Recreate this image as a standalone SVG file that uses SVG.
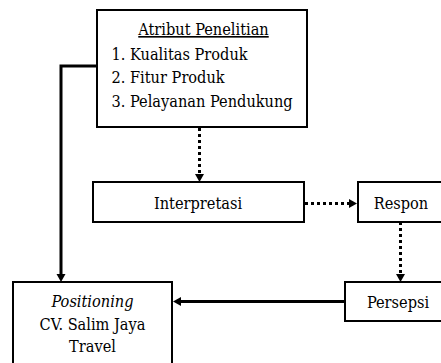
<svg xmlns="http://www.w3.org/2000/svg" width="441" height="363" viewBox="0 0 441 363">
<style>
.box{fill:#fff;stroke:#000;stroke-width:2}
.c{text-anchor:middle}
.solid{fill:none;stroke:#000;stroke-width:3}
.dot{fill:none;stroke:#000;stroke-width:3;stroke-dasharray:3 3}
</style>
<rect width="441" height="363" fill="#fff"/>
<g id="connectors">
<path class="solid" d="M97,66 H61 V275"/>
<path d="M56.5,274 L65.5,274 L61,282 Z" fill="#000"/>
<path class="dot" d="M199.5,128 V175"/>
<path d="M195,174 L204,174 L199.5,182 Z" fill="#000"/>
<path class="dot" d="M305,203.5 H350"/>
<path d="M349,199 L349,208 L357,203.5 Z" fill="#000"/>
<path class="dot" d="M400.5,222 V274"/>
<path d="M396,274 L405,274 L400.5,282 Z" fill="#000"/>
<path class="solid" d="M345,301.5 H180"/>
<path d="M181,297 L181,306 L173,301.5 Z" fill="#000"/>
</g>
<g font-family="DejaVu Serif Condensed, DejaVu Serif, serif" font-stretch="condensed" font-size="16.2" fill="#000">
<g id="atribut">
<rect class="box" x="97" y="10" width="210" height="117"/>
<text class="c" x="203.5" y="35" text-decoration="underline">Atribut Penelitian</text>
<text x="111.5" y="60">1. Kualitas Produk</text>
<text x="111.5" y="83">2. Fitur Produk</text>
<text x="111.5" y="107">3. Pelayanan Pendukung</text>
</g>
<g id="interpretasi">
<rect class="box" x="93" y="182" width="211" height="40"/>
<text class="c" x="198" y="209">Interpretasi</text>
</g>
<g id="respon">
<rect class="box" x="358" y="182" width="90" height="40"/>
<text class="c" x="401" y="209">Respon</text>
</g>
<g id="persepsi">
<rect class="box" x="345" y="282" width="103" height="39"/>
<text class="c" x="398" y="308">Persepsi</text>
</g>
<g id="positioning">
<rect class="box" x="13" y="282" width="159" height="90"/>
<text class="c" x="92.5" y="307" font-style="italic">Positioning</text>
<text class="c" x="92.5" y="330">CV. Salim Jaya</text>
<text class="c" x="92.5" y="352">Travel</text>
</g>
</g>
</svg>
